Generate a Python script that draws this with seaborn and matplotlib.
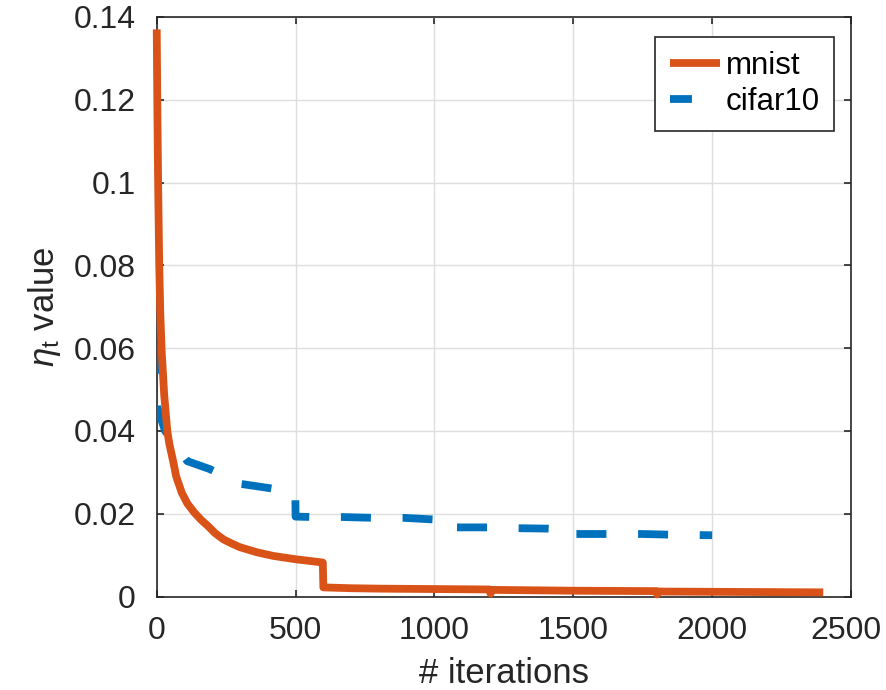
import matplotlib
matplotlib.use("Agg")
import matplotlib.pyplot as plt
import matplotlib.transforms as mtransforms
import seaborn as sns
import pandas as pd

# Step-size schedules recorded during training
mnist_iter = [0, 2, 5, 9, 13, 18, 27, 38, 45, 60, 70, 90, 110, 135, 160, 185,
              210, 240, 270, 300, 360, 420, 460, 500, 550, 598, 600, 700, 800,
              1000, 1199, 1202, 1206, 1500, 1799, 1802, 1806, 2100, 2400]
mnist_eta = [0.137, 0.120, 0.100, 0.080, 0.068, 0.059, 0.0486, 0.040, 0.037,
             0.0324, 0.029, 0.0251, 0.0225, 0.0203, 0.0185, 0.0170, 0.0153,
             0.0138, 0.0128, 0.0119, 0.0107, 0.0098, 0.0094, 0.0090, 0.0086,
             0.0082, 0.0022, 0.0020, 0.0019, 0.0018, 0.0017, 0.0007, 0.0016,
             0.0014, 0.0013, 0.0005, 0.0012, 0.0011, 0.0010]

cifar_iter = [0, 1, 30, 110, 190, 303, 404, 499, 500, 560, 670, 780, 890, 999,
              1000, 1090, 1190, 1300, 1410, 1499, 1500, 1650, 1750, 1870, 2000]
cifar_eta = [0.074, 0.046, 0.040, 0.0327, 0.0308, 0.0272, 0.0262, 0.0250,
             0.0193, 0.0192, 0.0192, 0.0190, 0.0190, 0.0186, 0.0168, 0.0167,
             0.0167, 0.0165, 0.0164, 0.0161, 0.0151, 0.0151, 0.0151, 0.0149,
             0.0148]

series_names = ["mnist", "cifar10"]
x_ticks = [0, 500, 1000, 1500, 2000, 2500]
y_ticks = [0, 0.02, 0.04, 0.06, 0.08, 0.1, 0.12, 0.14]
y_tick_labels = ["0", "0.02", "0.04", "0.06", "0.08", "0.1", "0.12", "0.14"]

df = pd.concat([
    pd.DataFrame({"iter": mnist_iter, "eta": mnist_eta, "dataset": series_names[0]}),
    pd.DataFrame({"iter": cifar_iter, "eta": cifar_eta, "dataset": series_names[1]}),
], ignore_index=True)

sns.set_theme(style="white")
plt.rcParams["font.family"] = ["Liberation Sans", "DejaVu Sans"]
plt.rcParams["mathtext.fontset"] = "custom"
plt.rcParams["mathtext.rm"] = "Liberation Sans"
plt.rcParams["mathtext.it"] = "Liberation Sans:italic"
plt.rcParams["lines.scale_dashes"] = False

ink = "#262626"
fig = plt.figure(figsize=(8.86, 6.90), dpi=100)
ax = fig.add_axes([0.1769, 0.1355, 0.7836, 0.8399])

palette = {"mnist": "#D95319", "cifar10": "#0072BD"}
sns.lineplot(data=df, x="iter", y="eta", hue="dataset",
             hue_order=series_names, palette=palette,
             estimator=None, sort=False, linewidth=5.6, legend=False, ax=ax)

orange_line, blue_line = ax.lines[0], ax.lines[1]
# dashes of about 30 px with 32 px gaps
blue_line.set_linestyle((5.8, (21.6, 22.8)))
orange_line.set_zorder(4)
blue_line.set_zorder(3)
orange_line.set_clip_on(False)
for ln in (orange_line, blue_line):
    ln.set_solid_capstyle("butt")
    ln.set_dash_capstyle("butt")
    ln.set_solid_joinstyle("round")
    ln.set_dash_joinstyle("round")

ax.set_xlim(0, 2500)
ax.set_ylim(0, 0.14)
ax.set_xticks(x_ticks)
ax.set_yticks(y_ticks)
ax.set_yticklabels(y_tick_labels)

ax.grid(True, color="#dedede", linewidth=1.0)
ax.set_axisbelow(True)
for side in ("left", "right", "top", "bottom"):
    ax.spines[side].set_visible(True)
    ax.spines[side].set_color(ink)
    ax.spines[side].set_linewidth(1.2)
ax.tick_params(axis="both", which="major", direction="in", length=5, width=1.2,
               color=ink, labelcolor=ink, labelsize=23,
               top=True, right=True, bottom=True, left=True)
ax.tick_params(axis="x", pad=14)
ax.tick_params(axis="y", pad=15)

# keep the last x tick label inside the figure
last = ax.get_xticklabels()[-1]
last.set_transform(last.get_transform() +
                   mtransforms.ScaledTranslation(-5 / 100, 0, fig.dpi_scale_trans))

ax.set_xlabel("# iterations", fontsize=25, color=ink, labelpad=8)
ax.set_ylabel(r"$\eta_{\mathrm{t}}$ value", fontsize=25, color=ink, labelpad=8)

leg = ax.legend([orange_line, blue_line], series_names, loc="upper right",
                bbox_to_anchor=(0.9755, 0.9655), borderaxespad=0,
                fontsize=22.5, frameon=True, fancybox=False, framealpha=1,
                edgecolor=ink, handlelength=1.6, handletextpad=0.2,
                labelspacing=0.2, borderpad=0.45)
leg.get_frame().set_linewidth(1.2)
for txt in leg.get_texts():
    txt.set_color("black")

fig.savefig("out.png", dpi=100)
